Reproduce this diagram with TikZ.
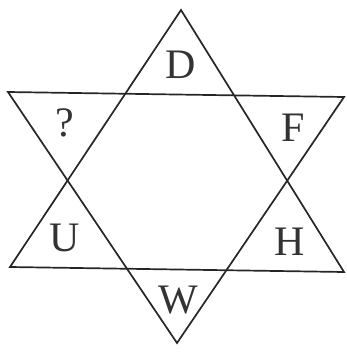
\documentclass[tikz,border=0pt]{standalone}
\usepackage{fontspec}
\setmainfont{Liberation Serif}
\begin{document}
\begin{tikzpicture}[x=1pt,y=-1pt,
  tri/.style={draw=black!85,line width=1.7pt,line join=miter},
  lbl/.style={font=\fontsize{42}{50}\selectfont,text=black!80,inner sep=0pt}]
\useasboundingbox (0,0) rectangle (346,354);
% upward triangle
\coordinate (ua) at (181,10);
\coordinate (ul) at (10,267);
\coordinate (ur) at (344,272);
% downward triangle
\coordinate (dl) at (8,92);
\coordinate (dr) at (344,97);
\coordinate (db) at (177,343);
\draw[tri] (ua) -- (ul) -- (ur) -- cycle;
\draw[tri] (dl) -- (dr) -- (db) -- cycle;
\node[lbl] (D) at (181,65) {D};
\node[lbl] (Q) at (65,123) {?};
\node[lbl] (F) at (293,128) {F};
\node[lbl] (U) at (65,238) {U};
\node[lbl] (H) at (290,242) {H};
\node[lbl] (W) at (178,300) {W};
\end{tikzpicture}
\end{document}
